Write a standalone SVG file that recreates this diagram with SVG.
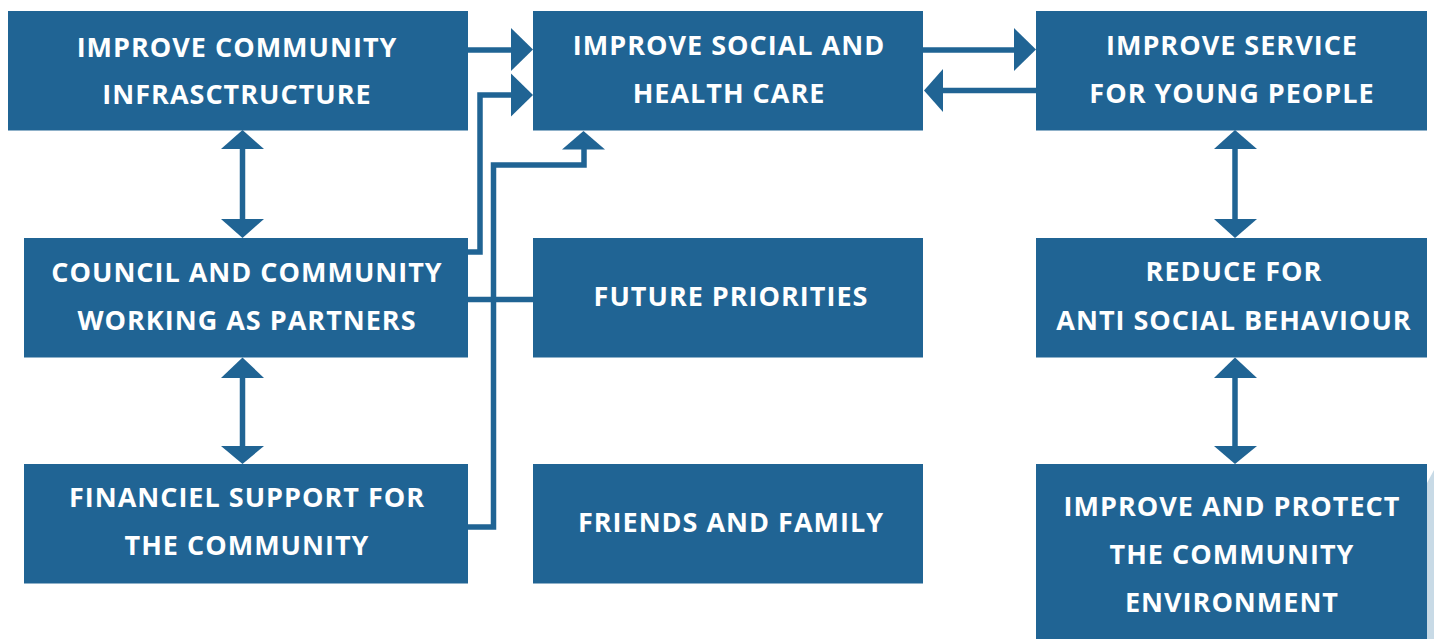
<svg xmlns="http://www.w3.org/2000/svg" width="1434" height="639" viewBox="0 0 1434 639">
<style>
.box{fill:#206494}
.t{fill:#ffffff;font-family:"Open Sans","Liberation Sans",sans-serif;font-weight:bold;font-size:27px;letter-spacing:1px;text-anchor:middle}
.ln{fill:none;stroke:#206494;stroke-width:5.5}
.ah{fill:#206494}
</style>
<rect width="1434" height="639" fill="#ffffff"/>
<polygon points="1427,483 1434,470 1434,639 1427,639" fill="#c8dae6"/>
<g id="node-improve-community-infrastructure">
<rect class="box" x="8" y="11" width="460" height="119.5"/>
<text class="t" x="237" y="57">IMPROVE COMMUNITY</text>
<text class="t" x="237" y="104">INFRASCTRUCTURE</text>
</g>
<g id="node-improve-social-health-care">
<rect class="box" x="533" y="11" width="390" height="119.5"/>
<text class="t" x="729" y="55">IMPROVE SOCIAL AND</text>
<text class="t" x="729" y="103">HEALTH CARE</text>
</g>
<g id="node-improve-service-young-people">
<rect class="box" x="1036" y="11" width="391" height="119.5"/>
<text class="t" x="1232" y="55">IMPROVE SERVICE</text>
<text class="t" x="1232" y="103">FOR YOUNG PEOPLE</text>
</g>
<g id="node-council-community-partners">
<rect class="box" x="24" y="238" width="444" height="119.5"/>
<text class="t" x="247" y="282">COUNCIL AND COMMUNITY</text>
<text class="t" x="247" y="330">WORKING AS PARTNERS</text>
</g>
<g id="node-future-priorities">
<rect class="box" x="533" y="238" width="390" height="119.5"/>
<text class="t" x="731" y="306">FUTURE PRIORITIES</text>
</g>
<g id="node-reduce-anti-social">
<rect class="box" x="1036" y="238" width="391" height="119.5"/>
<text class="t" x="1234" y="281">REDUCE FOR</text>
<text class="t" x="1234" y="330">ANTI SOCIAL BEHAVIOUR</text>
</g>
<g id="node-financiel-support">
<rect class="box" x="24" y="464" width="444" height="119.5"/>
<text class="t" x="247" y="507">FINANCIEL SUPPORT FOR</text>
<text class="t" x="247" y="555">THE COMMUNITY</text>
</g>
<g id="node-friends-family">
<rect class="box" x="533" y="464" width="390" height="119.5"/>
<text class="t" x="731" y="532">FRIENDS AND FAMILY</text>
</g>
<g id="node-improve-protect-environment">
<rect class="box" x="1036" y="464" width="391" height="175"/>
<text class="t" x="1232" y="516">IMPROVE AND PROTECT</text>
<text class="t" x="1232" y="564">THE COMMUNITY</text>
<text class="t" x="1232" y="612">ENVIRONMENT</text>
</g>
<g id="connectors">
<path class="ln" d="M468,50 H513"/>
<polygon class="ah" points="533,49.5 511,28 511,71"/>
<path class="ln" d="M468,252 H480 V95 H513"/>
<polygon class="ah" points="533,95 511,73.5 511,116.5"/>
<path class="ln" d="M468,527 H493.5 V165 H584 V148"/>
<polygon class="ah" points="583.5,131 562,149.5 605,149.5"/>
<path class="ln" d="M468,299.5 H533"/>
<path class="ln" d="M923,50 H1016"/>
<polygon class="ah" points="1036,49.5 1014,28 1014,71"/>
<path class="ln" d="M1036,90.5 H942"/>
<polygon class="ah" points="924,90.5 943,69 943,112"/>
<path class="ln" d="M242.5,148 V220"/>
<polygon class="ah" points="242.5,130 221,149 264,149"/>
<polygon class="ah" points="242.5,238 221,219 264,219"/>
<path class="ln" d="M242.5,376 V447"/>
<polygon class="ah" points="242.5,357.5 221,378 264,378"/>
<polygon class="ah" points="242.5,464 221,446 264,446"/>
<path class="ln" d="M1235,148 V220"/>
<polygon class="ah" points="1235,130 1214,149 1257,149"/>
<polygon class="ah" points="1235,238 1214,219 1257,219"/>
<path class="ln" d="M1235,376 V447"/>
<polygon class="ah" points="1235,357.5 1214,378 1257,378"/>
<polygon class="ah" points="1235,464 1214,446 1257,446"/>
</g>
</svg>
